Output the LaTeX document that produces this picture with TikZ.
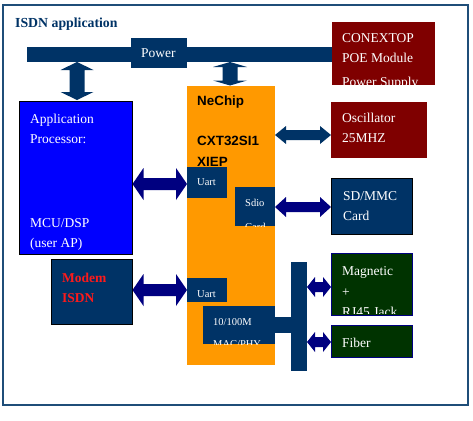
\documentclass[tikz,border=0pt]{standalone}
\usepackage{fontspec}
\setmainfont{Liberation Serif}
\newfontfamily\chipfont{Liberation Sans}
\definecolor{navy}{HTML}{003366}
\definecolor{deepblue}{HTML}{000080}
\definecolor{darkred}{HTML}{7F0000}
\definecolor{apblue}{HTML}{0000FF}
\definecolor{chiporange}{HTML}{FF9900}
\definecolor{darkgreen}{HTML}{003300}
\definecolor{framecol}{HTML}{1F4E79}
\definecolor{modemred}{HTML}{FF1A1A}
% horizontal double block arrow: x1 x2 y shafthalf headhalf headlen colour
\newcommand\hdblarrow[7]{%
  \fill[#7] (#1,#3) -- (#1+#6,#3-#5) -- (#1+#6,#3-#4) -- (#2-#6,#3-#4) -- (#2-#6,#3-#5)
    -- (#2,#3) -- (#2-#6,#3+#5) -- (#2-#6,#3+#4) -- (#1+#6,#3+#4) -- (#1+#6,#3+#5) -- cycle;}
% vertical double block arrow: y1 y2 x shafthalf headhalf headlen colour
\newcommand\vdblarrow[7]{%
  \fill[#7] (#3,#1) -- (#3-#5,#1+#6) -- (#3-#4,#1+#6) -- (#3-#4,#2-#6) -- (#3-#5,#2-#6)
    -- (#3,#2) -- (#3+#5,#2-#6) -- (#3+#4,#2-#6) -- (#3+#4,#1+#6) -- (#3+#5,#1+#6) -- cycle;}
\begin{document}
\begin{tikzpicture}[x=1pt,y=-1pt,
  blk/.style={anchor=north west,inner sep=0pt,outer sep=0pt},
  wt/.style={anchor=base west,inner sep=0pt,text=white,font=\fontsize{13.5}{16}\selectfont},
  wts/.style={anchor=base west,inner sep=0pt,text=white,font=\fontsize{10.5}{12}\selectfont},
  ct/.style={anchor=base west,inner sep=0pt,text=black,font=\chipfont\bfseries\fontsize{13.4}{16}\selectfont},
  mt/.style={anchor=base west,inner sep=0pt,text=modemred,font=\bfseries\fontsize{13.5}{16}\selectfont}]
\useasboundingbox (0,0) rectangle (473,420);
\fill[white] (0,0) rectangle (473,420);
% frame
\node[blk,draw=framecol,line width=2pt,minimum width=465pt,minimum height=400pt] (frame) at (3,5) {};
\node[anchor=base west,inner sep=0pt,text=navy,font=\bfseries\fontsize{13.8}{16}\selectfont] (title) at (15,28) {ISDN application};
% power bar
\node[blk,fill=navy,minimum width=306pt,minimum height=15pt] (pbar) at (27,47) {};
\node[blk,fill=navy,minimum width=56pt,minimum height=30pt] (pbox) at (131,38) {};
\node[wt] (ptext) at (141,57) {Power};
% conextop
\node[blk,fill=darkred,minimum width=103pt,minimum height=63pt] (conex) at (332,22) {};
\begin{scope}
\clip (conex.north west) rectangle (conex.south east);
\node[wt] at (342,42) {CONEXTOP};
\node[wt] at (342,63) {POE Module};
\node[wt] at (342,86.5) {Power Supply};
\end{scope}
% application processor
\node[blk,fill=apblue,draw=black,line width=1pt,minimum width=113pt,minimum height=153pt] (app) at (19,101) {};
\node[wt] at (30,123) {Application};
\node[wt] at (30,143.8) {Processor:};
\node[wt] at (30,227) {MCU/DSP};
\node[wt] at (30,247.5) {(user AP)};
% modem
\node[blk,fill=navy,draw=black,line width=1pt,minimum width=81pt,minimum height=65pt] (modem) at (51,259) {};
\node[mt] at (62,282) {Modem};
\node[mt] at (62,302) {ISDN};
% NeChip
\node[blk,fill=chiporange,minimum width=88pt,minimum height=279pt] (chip) at (187,86) {};
\node[ct] at (197,105) {NeChip};
\node[ct] at (197,145) {CXT32SI1};
\node[ct] at (197,166) {XIEP};
% uart 1
\node[blk,fill=navy,minimum width=40pt,minimum height=31pt] (uart1) at (187,167) {};
\node[wts] at (197,185) {Uart};
% sdio
\node[blk,fill=navy,minimum width=40pt,minimum height=39pt] (sdio) at (235,187) {};
\begin{scope}
\clip (sdio.north west) rectangle (sdio.south east);
\node[wts] at (245,206) {Sdio};
\node[wts] at (245,230) {Card};
\end{scope}
% uart 2
\node[blk,fill=navy,minimum width=40pt,minimum height=24pt] (uart2) at (187,278) {};
\node[wts] at (197,297) {Uart};
% mac/phy
\node[blk,fill=navy,minimum width=72pt,minimum height=38pt] (mac) at (203,306) {};
\begin{scope}
\clip (mac.north west) rectangle (mac.south east);
\node[wts] at (213,325) {10/100M};
\node[wts] at (213,347.5) {MAC/PHY};
\end{scope}
% bus bar and link
\node[blk,fill=navy,minimum width=16pt,minimum height=109pt] (bus) at (291,262) {};
\node[blk,fill=navy,minimum width=17pt,minimum height=16pt] (link) at (275,317) {};
% oscillator
\node[blk,fill=darkred,minimum width=96pt,minimum height=56pt] (osc) at (331,102) {};
\node[wt] at (342,122) {Oscillator};
\node[wt] at (342,142) {25MHZ};
% sd card
\node[blk,fill=navy,draw=black,line width=1pt,minimum width=81pt,minimum height=56pt] (sd) at (331,178) {};
\node[wt] at (343,200) {SD/MMC};
\node[wt] at (343,220) {Card};
% magnetic
\node[blk,fill=darkgreen,draw=deepblue,line width=1pt,minimum width=81pt,minimum height=62pt] (mag) at (331,253) {};
\begin{scope}
\clip (331.5,253) rectangle (411.5,313.5);
\node[wt] at (342,275) {Magnetic};
\node[wt] at (342,296) {+};
\node[wt] at (342,316.5) {RJ45 Jack};
\end{scope}
% fiber
\node[blk,fill=darkgreen,draw=deepblue,line width=1pt,minimum width=81pt,minimum height=32pt] (fiber) at (331,325) {};
\node[wt] at (342,347) {Fiber};
% arrows
\vdblarrow{62}{100}{77}{7.5}{16.5}{8}{navy}
\vdblarrow{62}{85.5}{230}{7.5}{17}{5}{navy}
\hdblarrow{132.5}{187}{184}{6}{16}{11}{deepblue}
\hdblarrow{132.5}{187}{290}{6}{16}{11}{deepblue}
\hdblarrow{275}{331}{135}{5}{9}{11}{navy}
\hdblarrow{275}{331}{207}{5}{10}{11}{deepblue}
\hdblarrow{307}{331}{287}{5}{10}{8}{deepblue}
\hdblarrow{307}{331}{342}{5}{10}{8}{deepblue}
\end{tikzpicture}
\end{document}
